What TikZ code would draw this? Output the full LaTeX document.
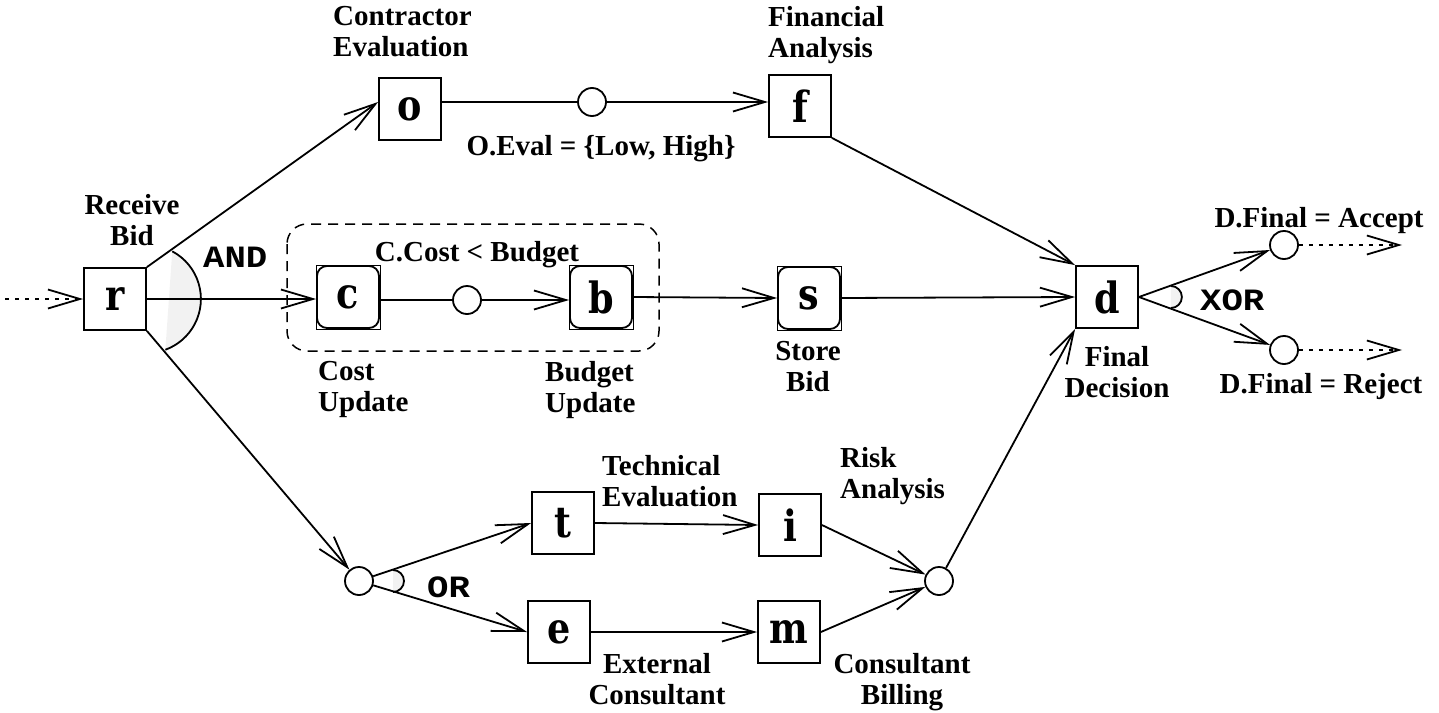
\documentclass[tikz,border=0pt]{standalone}
\usepackage{fontspec}
\setmainfont{Liberation Serif}
\setmonofont[FakeStretch=1.15]{Liberation Mono}
\newfontfamily\letterfont[FakeStretch=0.85]{DejaVu Serif}
\usetikzlibrary{arrows.meta,calc}
\begin{document}
\begin{tikzpicture}[x=1pt,y=-1pt,
  box/.style={draw, line width=1.8pt, minimum size=62pt, inner sep=0pt, font=\letterfont\bfseries\fontsize{43}{45}\selectfont},
  rbox/.style={box, rounded corners=10pt},
  cond/.style={draw, circle, line width=1.8pt, minimum size=28pt, inner sep=0pt},
  lbl/.style={inner sep=0pt, font=\bfseries\fontsize{29}{31}\selectfont},
  gate/.style={inner sep=0pt, font=\ttfamily\bfseries\fontsize{31}{33}\selectfont},
  plain/.style={line width=1.8pt},
  flow/.style={plain, -{Straight Barb[length=32pt,width=19pt]}},
  dots/.style={flow, dash pattern=on 4pt off 6pt},
  gatefill/.style={fill=gray!10},
  group/.style={draw, line width=1.5pt, dash pattern=on 10pt off 7pt, rounded corners=20pt},
]
\useasboundingbox (0,0) rectangle (1439,712);

% boxes
\node[box] (r) at (115,299) {r};
\node[box] (o) at (410,109) {o};
\node[box] (f) at (800,106) {f};
\node[rbox] (c) at (348,297) {c};
\node[rbox] (b) at (601,297) {b};
\node[rbox] (s) at (809,298) {s};
\node[box] (d) at (1107,297) {d};
\node[box] (t) at (563,523) {t};
\node[box] (i) at (790,525) {i};
\node[box] (e) at (559,632) {e};
\node[box] (m) at (789,632) {m};
\foreach \n in {c,b,s} \draw[line width=0.8pt] (\n.south west) rectangle (\n.north east);

% condition circles
\node[cond] (k1) at (592,102) {};
\node[cond] (k2) at (467,300) {};
\node[cond] (kor) at (359,581) {};
\node[cond] (kj) at (939,581) {};
\node[cond] (ka) at (1284,245) {};
\node[cond] (kr) at (1284,350) {};

\coordinate (in) at (5,299);
\coordinate (outa) at (1402,245);
\coordinate (outr) at (1402,350);

% group box
\draw[group] (287,224) rectangle (659,351);

% gates
\fill[gatefill] ($(r.east)+(-62:54)$) arc[start angle=-62,end angle=70,radius=54] -- cycle;
\draw[plain] ($(r.east)+(-62:54)$) arc[start angle=-62,end angle=70,radius=54];
\fill[gatefill] ($(d.east)+(32,-11)$) arc[start angle=-90,end angle=90,radius=11] -- cycle;
\draw[plain] ($(d.east)+(32,-11)$) arc[start angle=-90,end angle=90,radius=11];
\fill[gatefill] ($(kor)+(34,-11)$) arc[start angle=-90,end angle=90,radius=11] -- cycle;
\draw[plain] ($(kor)+(34,-11)$) arc[start angle=-90,end angle=90,radius=11];

% labels
\node[lbl, align=center, anchor=north] (lr) at (132,194) {Receive\\Bid};
\node[lbl, align=left, anchor=north west] (lo) at (333,6) {Contractor\\Evaluation};
\node[lbl, align=left, anchor=north west] (lf) at (768,6) {Financial\\Analysis};
\node[lbl, anchor=base] (lk1) at (601,155) {O.Eval = \{Low, High\}};
\node[lbl, anchor=base] (lk2) at (477,261) {C.Cost < Budget};
\node[lbl, align=left, anchor=north west] (lc) at (318,361) {Cost\\Update};
\node[lbl, align=left, anchor=north west] (lb) at (545,361) {Budget\\Update};
\node[lbl, align=center, anchor=north] (ls) at (808,341) {Store\\Bid};
\node[lbl, align=center, anchor=north] (ld) at (1117,346) {Final\\Decision};
\node[lbl, anchor=base] (lka) at (1319,227) {D.Final = Accept};
\node[lbl, anchor=base] (lkr) at (1321,393) {D.Final = Reject};
\node[lbl, align=left, anchor=north west] (lt) at (602,455) {Technical\\Evaluation};
\node[lbl, align=left, anchor=north west] (li) at (840,447) {Risk\\Analysis};
\node[lbl, align=center, anchor=north] (le) at (657,653) {External\\Consultant};
\node[lbl, align=center, anchor=north] (lm) at (902,653) {Consultant\\Billing};
\node[gate, anchor=base west] (and) at (203,267) {AND};
\node[gate, anchor=base west] (xor) at (1200,310) {XOR};
\node[gate, anchor=base west] (or) at (427,597) {OR};

% connectors
\draw[dots] (in) -- (r.west);
\draw[flow] (r.north east) -- (o.west |- k1);
\draw[flow] (r.east) -- (c.west |- r.east);
\draw[flow] (r.south east) -- (kor);
\draw[plain] (o.east |- k1) -- (k1);
\draw[flow] (k1) -- (f.west |- k1);
\draw[plain] (c.east |- k2) -- (k2);
\draw[flow] (k2) -- (b.west |- k2);
\draw[flow] (b.east) -- (s.west);
\draw[flow] (s.east) -- (d.west);
\draw[flow] (f.south east) -- (d.north west);
\draw[flow] (kj) -- (d.south west);
\draw[flow] (d.east) -- (ka);
\draw[flow] (d.east) -- (kr);
\draw[dots] (ka) -- (outa);
\draw[dots] (kr) -- (outr);
\draw[flow] (kor) -- (t.west);
\draw[flow] (kor) -- (e.west);
\draw[flow] (t.east) -- (i.west);
\draw[flow] (e.east) -- (m.west);
\draw[flow] (i.east) -- (kj);
\draw[flow] (m.east) -- (kj);
\end{tikzpicture}
\end{document}
